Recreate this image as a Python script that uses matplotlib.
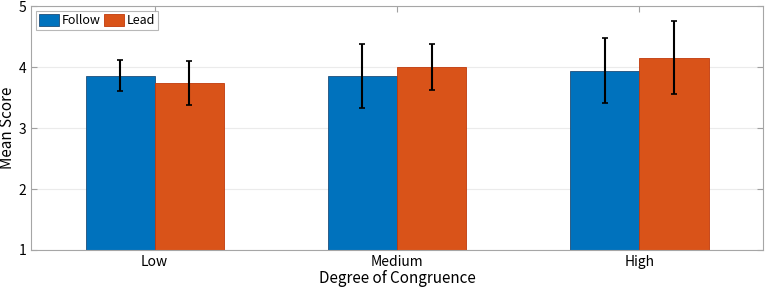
import matplotlib.pyplot as plt
import numpy as np

plt.rcParams['font.family'] = ['Noto Sans CJK JP', 'DejaVu Sans']

categories = ["Low", "Medium", "High"]
follow = np.array([3.86, 3.85, 3.94])
lead = np.array([3.74, 4.00, 4.15])
follow_err = np.array([0.26, 0.52, 0.53])
lead_err = np.array([0.36, 0.37, 0.60])

x = np.arange(1, len(categories) + 1)
w = 0.285

fig = plt.figure(figsize=(7.65, 2.89), dpi=100)
ax = fig.add_axes([0.0405, 0.135, 0.957, 0.844])

ax.bar(x - w / 2, follow - 1, w, bottom=1, color="#0072BD", edgecolor="#1f4e79",
       lw=0.6, label="Follow", zorder=2)
ax.bar(x + w / 2, lead - 1, w, bottom=1, color="#D95319", edgecolor="#c0390b",
       lw=0.6, label="Lead", zorder=2)
ax.errorbar(x - w / 2, follow, yerr=follow_err, fmt="none", ecolor="black",
            elinewidth=1.5, capsize=2.5, capthick=1.2, zorder=3)
ax.errorbar(x + w / 2, lead, yerr=lead_err, fmt="none", ecolor="black",
            elinewidth=1.5, capsize=2.5, capthick=1.2, zorder=3)

ax.set_xlim(0.49, 3.51)
ax.set_ylim(1, 5)
ax.set_yticks([1, 2, 3, 4, 5])
ax.set_xticks(x)
ax.set_xticklabels(categories)
ax.grid(axis="y", color="#ebebeb", lw=0.8, zorder=0)
ax.tick_params(direction="in", top=True, right=True, length=4, color="#a0a0a0",
               labelsize=10, labelcolor="black")
for s in ax.spines.values():
    s.set_color("#a6a6a6")
    s.set_linewidth(0.8)

ax.set_xlabel("Degree of Congruence", fontsize=11, labelpad=1)
ax.set_ylabel("Mean Score", fontsize=11, labelpad=2)

leg = ax.legend(loc="upper left", ncol=2, fontsize=9, frameon=True, fancybox=False,
                edgecolor="#a6a6a6", handlelength=1.6, handleheight=1.0,
                columnspacing=0.3, handletextpad=0.2, borderpad=0.25,
                borderaxespad=0.4)
leg.get_frame().set_linewidth(0.8)

fig.savefig("out.png", dpi=100)
